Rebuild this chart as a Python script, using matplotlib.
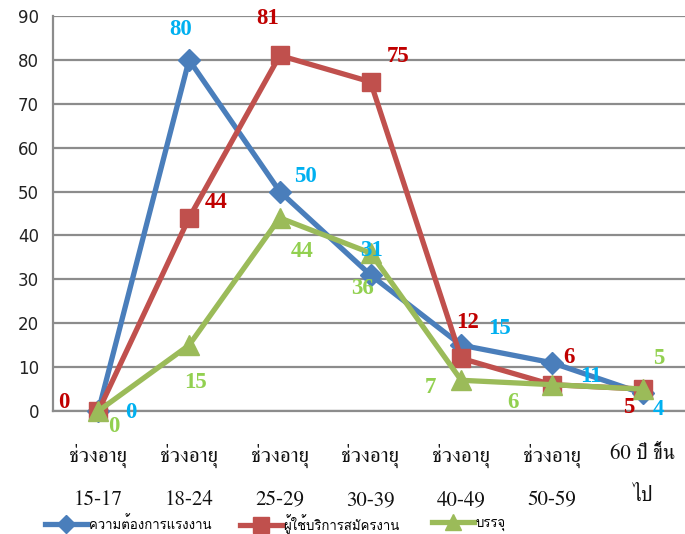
import matplotlib
matplotlib.use("Agg")
import matplotlib.pyplot as plt
from matplotlib import font_manager as fm
from matplotlib.lines import Line2D

# ---------------- data ----------------
categories = ["ช่วงอายุ\n15-17", "ช่วงอายุ\n18-24", "ช่วงอายุ\n25-29", "ช่วงอายุ\n30-39",
              "ช่วงอายุ\n40-49", "ช่วงอายุ\n50-59", "60 ปี ขึ้น\nไป"]
series_names = ["ความต้องการแรงงาน", "ผู้ใช้บริการสมัครงาน", "บรรจุ"]
demand = [0, 80, 50, 31, 15, 11, 4]
applicants = [0, 44, 81, 75, 12, 6, 5]
placed = [0, 15, 44, 36, 7, 6, 5]
yticks = [0, 10, 20, 30, 40, 50, 60, 70, 80, 90]

# ---------------- fonts ----------------
def thai_fonts():
    names = []
    try:
        from fontTools.ttLib import TTFont
        for f in fm.fontManager.ttflist:
            try:
                tt = TTFont(f.fname, fontNumber=0, lazy=True)
                cmap = tt.getBestCmap()
                if cmap and 0x0E0A in cmap and f.name not in names:
                    names.append(f.name)
            except Exception:
                pass
    except Exception:
        pass
    return names

thai = thai_fonts()
serif_thai = [n for n in thai if "Serif" in n]
thai_family = (serif_thai + thai)[:1] + ["Liberation Serif", "DejaVu Sans"]
thai_family_sans = thai[:1] + ["DejaVu Sans"]

# ---------------- style ----------------
line_colors = ["#4A7EBB", "#C0504D", "#9BBB59"]
label_colors = ["#00B0F0", "#C00000", "#92D050"]
markers = ["D", "s", "^"]
msizes = [11, 13, 14]
grid_color = "#8C8C8C"

# label offsets in pixels (dx, dy) relative to each point
offsets = [
    [(32, -2), (-8, 30), (26, 15), (1, 24), (38, 17), (39, -14), (16, -16)],
    [(-35, 8), (27, 15), (-12, 37), (28, 25), (6, 36), (17, 27), (-14, -18)],
    [(15, -16), (6, -37), (22, -34), (-8, -35), (-31, -7), (-39, -18), (16, 31)],
]
legend_x = [45 / 685, 240 / 685, 432 / 685]

fig = plt.figure(figsize=(6.85, 5.34), dpi=100)
ax = fig.add_axes([53 / 685, (534 - 411) / 534, 635 / 685, 395 / 534])

x = list(range(len(categories)))
data = [demand, applicants, placed]
for i, vals in enumerate(data):
    ax.plot(x, vals, color=line_colors[i], lw=3.8, marker=markers[i],
            markersize=msizes[i], markerfacecolor=line_colors[i],
            markeredgecolor=line_colors[i], zorder=3 + i, clip_on=False,
            solid_joinstyle="round")
for i, vals in enumerate(data):
    for j, v in enumerate(vals):
        dx, dy = offsets[i][j]
        ax.annotate(str(v), (x[j], v), xytext=(dx, dy), textcoords="offset pixels",
                    ha="center", va="center", color=label_colors[i],
                    fontsize=16.5, fontweight="bold", family="Liberation Serif",
                    zorder=10, annotation_clip=False)

ax.set_xlim(-0.5, len(categories) - 0.5)
ax.set_ylim(0, 90)
ax.set_yticks(yticks)
ax.set_yticklabels([str(t) for t in yticks], fontsize=12, family="DejaVu Sans",
                   color="#222222")
ax.set_xticks(x)
ax.set_xticklabels(categories, fontsize=15, family=thai_family, linespacing=2.5,
                   color="#111111")
ax.tick_params(axis="both", length=0)
ax.tick_params(axis="x", pad=24)
ax.tick_params(axis="y", pad=10)
ax.yaxis.grid(True, color=grid_color, lw=1.6)
ax.set_axisbelow(True)
for s in ["top", "right"]:
    ax.spines[s].set_visible(False)
ax.spines["left"].set_color(grid_color)
ax.spines["left"].set_linewidth(1.6)
ax.spines["bottom"].set_color(grid_color)
ax.spines["bottom"].set_linewidth(1.6)

for i in range(3):
    h = Line2D([0], [0], color=line_colors[i], lw=3.8, marker=markers[i],
               markersize=msizes[i] - 2)
    leg = fig.legend([h], [series_names[i]], loc="center left",
                     bbox_to_anchor=(legend_x[i], 1 - 524 / 534),
                     frameon=False, handlelength=3.2, handletextpad=0.1,
                     borderpad=0, borderaxespad=0,
                     prop={"family": thai_family_sans, "size": 9.5})

fig.savefig("out.png", dpi=100)
